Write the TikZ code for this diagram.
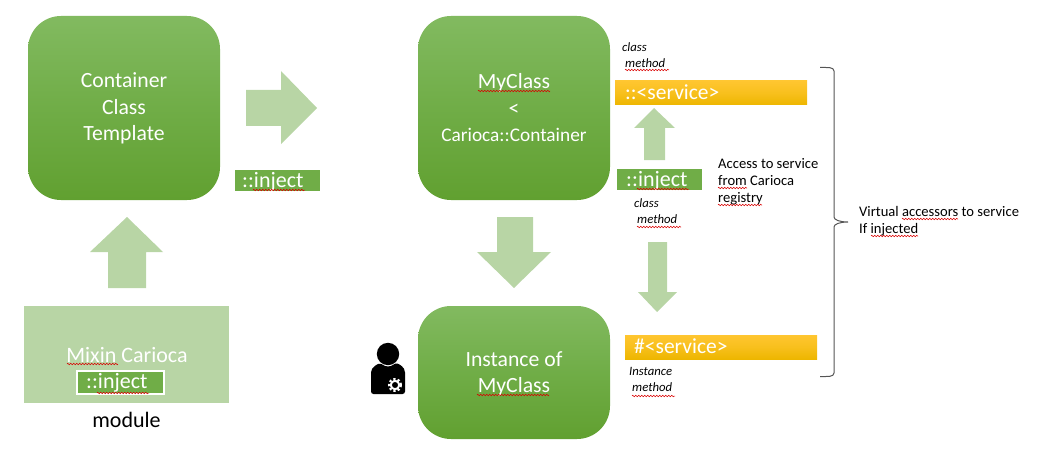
\documentclass[tikz,border=0pt]{standalone}
\usepackage{fontspec}
\setmainfont{Carlito}
\usetikzlibrary{decorations.pathmorphing}
\definecolor{gtop}{HTML}{82BA60}
\definecolor{gbot}{HTML}{61A030}
\definecolor{pale}{HTML}{B8D5A5}
\definecolor{injgreen}{HTML}{70AD47}
\definecolor{otop}{HTML}{FFC630}
\definecolor{obot}{HTML}{EDB600}
\definecolor{bracec}{HTML}{555555}
\tikzset{
  x=1pt,y=-1pt,
  bigbox/.style={draw=none,rounded corners=33pt,top color=gtop,bottom color=gbot,middle color=injgreen,inner sep=0pt},
  bigtext/.style={text=white,align=center,inner sep=0pt,font=\fontsize{21.7}{26.5}\selectfont},
  injbox/.style={fill=injgreen,inner sep=0pt,anchor=west},
  injtext/.style={text=white,font=\fontsize{22}{24}\selectfont,inner sep=0pt,anchor=west},
  svcbox/.style={top color=otop,bottom color=obot,middle color=otop!60!obot,inner sep=0pt},
  svctext/.style={text=white,font=\fontsize{21.5}{24}\selectfont,inner sep=0pt,anchor=west},
  paleshape/.style={fill=pale,draw=none},
  note/.style={font=\fontsize{12.7}{16}\selectfont\itshape,align=left,anchor=north west,inner sep=0pt},
  plain/.style={font=\fontsize{14.6}{17}\selectfont,align=left,anchor=north west,inner sep=0pt},
  squig/.style={draw=red!85!black,line width=0.5pt,decorate,decoration={zigzag,segment length=3pt,amplitude=0.8pt}}
}
\newcommand{\squigline}[3]{\draw[squig] (#1,#3) -- (#2,#3);}
\begin{document}
\begin{tikzpicture}
\useasboundingbox (0,0) rectangle (1046,468);
% big boxes
\node[bigbox,minimum width=192pt,minimum height=184pt] (container) at (124,108) {};
\node[bigtext] (containerlabel) at (124,108.5) {Container\\Class\\Template};
\node[bigbox,minimum width=192pt,minimum height=184pt] (myclass) at (514,108) {};
\node[bigtext] (myclasslabel) at (514,108) {MyClass\\<\\{\fontsize{19.3}{26.5}\selectfont Carioca::Container}};
\node[bigbox,minimum width=192pt,minimum height=133pt] (instance) at (514,372.5) {};
\node[bigtext] (instancelabel) at (514,374) {Instance of\\MyClass};
% arrows
\path[paleshape] (246,90) -- (281,90) -- (281,71) -- (317,108) -- (281,144) -- (281,126) -- (246,126) -- cycle;
\path[paleshape] (108,288) -- (108,252) -- (90,252) -- (127,217) -- (163,252) -- (146,252) -- (146,288) -- cycle;
\path[paleshape] (497,217) -- (533,217) -- (533,252) -- (551,252) -- (514,288) -- (477,252) -- (497,252) -- cycle;
\path[paleshape] (644,160) -- (644,128) -- (634,128) -- (654,108) -- (675,128) -- (665,128) -- (665,160) -- cycle;
\path[paleshape] (648,242) -- (667,242) -- (667,292) -- (677,292) -- (657,312) -- (638,292) -- (648,292) -- cycle;
% mixin
\node[fill=pale,minimum width=205pt,minimum height=97pt,inner sep=0pt] (mixin) at (126.5,354.5) {};
\node[text=white,font=\fontsize{22}{24}\selectfont,inner sep=0pt] (mixinlabel) at (127,355) {Mixin Carioca};
\node[draw=white,line width=1.6pt,fill=injgreen,minimum width=87pt,minimum height=23.5pt,inner sep=0pt] (mixininject) at (120.5,382.5) {};
\node[injtext] (mixininjectlabel) at (86,383) {::inject};
\node[font=\fontsize{22}{24}\selectfont,inner sep=0pt] (module) at (126.5,420) {module};
% inject boxes
\node[injbox,minimum width=85pt,minimum height=21pt] (injecta) at (235,180.5) {};
\node[injtext] (injectalabel) at (242,181.5) {::inject};
\node[injbox,minimum width=85pt,minimum height=21pt] (injectb) at (617,179.5) {};
\node[injtext] (injectblabel) at (626,180.5) {::inject};
% service boxes
\node[svcbox,minimum width=192pt,minimum height=24pt] (svca) at (711,93) {};
\node[svctext] (svcalabel) at (625,92) {::<service>};
\node[svcbox,minimum width=192pt,minimum height=24pt] (svcb) at (721,347) {};
\node[svctext] (svcblabel) at (634,346) {\#<service>};
% notes
\node[note] (n1) at (622,42) {class\\\hspace{3pt}method};
\node[note] (n2) at (634,198) {class\\\hspace{3pt}method};
\node[note] (n3) at (629,367) {Instance\\\hspace{3pt}method};
\node[plain] (n4) at (718,158) {Access to service\\from Carioca\\registry};
\node[plain] (n5) at (859,206.5) {Virtual accessors to service\\If injected};
% brace
\draw[bracec,line width=1pt] (820,67.5) .. controls (828,67.5) and (834,67) .. (834,71) -- (834,217) .. controls (834,220) and (840,222) .. (848,222) .. controls (840,222) and (834,224) .. (834,227) -- (834,373) .. controls (834,377) and (828,376.5) .. (820,376.5);
% person
\fill[black] (388,354) circle (11.2);
\fill[black,rounded corners=2.5pt] (371,394) -- (371,375) .. controls (371,367) and (378,364) .. (381,363) .. controls (385,367) and (391,367) .. (395,363) .. controls (399,364) and (405,367) .. (405,375) -- (405,394) -- cycle;
\draw[white,line width=2pt] (395,385) circle (4.2);
\draw[white,line width=2pt,dash pattern=on 2.2pt off 2.2pt] (395,385) circle (6);
% spelling marks
\squigline{478}{550}{91}
\squigline{625}{669}{70}
\squigline{637}{681}{227}
\squigline{632}{675}{396}
\squigline{477}{549}{395}
\squigline{67}{118}{364}
\squigline{97}{149}{393}
\squigline{253}{305}{190}
\squigline{637}{689}{189}
\squigline{718}{747}{188}
\squigline{718}{762}{205}
\squigline{902}{958}{219}
\squigline{871}{918}{236}
\end{tikzpicture}
\end{document}
